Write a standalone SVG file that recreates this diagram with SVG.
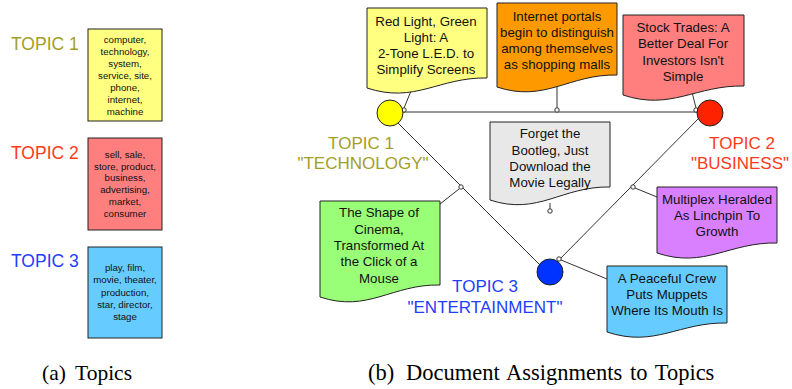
<svg xmlns="http://www.w3.org/2000/svg" width="792" height="389" viewBox="0 0 792 389">
<style>
text{font-family:"Liberation Sans",Arial,sans-serif;fill:#111}
.kw{font-size:9.7px;text-anchor:middle}
.doc{font-size:13.3px;text-anchor:middle}
.tl{font-size:17.5px}
.tr{font-size:17px;text-anchor:middle}
.cap{font-family:"Liberation Serif","Times New Roman",serif;font-size:21.5px;fill:#000}
.box{stroke:#222;stroke-width:1}
.ln{stroke:#333;stroke-width:1;fill:none}
.dot{fill:#fff;stroke:#333;stroke-width:1}
.t1{fill:#a39e26}.t2{fill:#ff3a1a}.t3{fill:#1f3dff}
</style>

<g id="topic1-box">
<text class="tl t1" x="11" y="50">TOPIC 1</text>
<rect class="box" x="88" y="29" width="74" height="92" fill="#ffff80"/>
<text class="kw" x="125" y="43">computer,</text>
<text class="kw" x="125" y="55">technology,</text>
<text class="kw" x="125" y="67">system,</text>
<text class="kw" x="125" y="79">service, site,</text>
<text class="kw" x="125" y="91">phone,</text>
<text class="kw" x="125" y="103">internet,</text>
<text class="kw" x="125" y="115">machine</text>
</g>
<g id="topic2-box">
<text class="tl t2" x="11" y="159">TOPIC 2</text>
<rect class="box" x="88" y="138" width="74" height="92" fill="#ff7f7f"/>
<text class="kw" x="125" y="158">sell, sale,</text>
<text class="kw" x="125" y="169.7">store, product,</text>
<text class="kw" x="125" y="181.4">business,</text>
<text class="kw" x="125" y="193.1">advertising,</text>
<text class="kw" x="125" y="204.8">market,</text>
<text class="kw" x="125" y="216.5">consumer</text>
</g>
<g id="topic3-box">
<text class="tl t3" x="11" y="267">TOPIC 3</text>
<rect class="box" x="88" y="247" width="74" height="91" fill="#66ccff"/>
<text class="kw" x="125" y="271">play, film,</text>
<text class="kw" x="125" y="283.25">movie, theater,</text>
<text class="kw" x="125" y="295.5">production,</text>
<text class="kw" x="125" y="307.75">star, director,</text>
<text class="kw" x="125" y="320">stage</text>
</g>

<g id="connectors">
<line class="ln" x1="392" y1="112" x2="708" y2="112"/>
<line class="ln" x1="398" y1="123" x2="541" y2="266"/>
<line class="ln" x1="700" y1="117" x2="557" y2="262"/>
<line class="ln" x1="404" y1="108" x2="411" y2="91"/>
<line class="ln" x1="557" y1="85" x2="557" y2="108"/>
<line class="ln" x1="696" y1="108" x2="692" y2="92"/>
<line class="ln" x1="550" y1="203" x2="550" y2="209"/>
<line class="ln" x1="459" y1="189" x2="440" y2="204"/>
<line class="ln" x1="635" y1="188" x2="657" y2="197"/>
<line class="ln" x1="561" y1="260" x2="607" y2="279"/>
<circle class="dot" cx="404" cy="110" r="2.2"/>
<circle class="dot" cx="557" cy="110" r="2.2"/>
<circle class="dot" cx="696" cy="110" r="2.2"/>
<circle class="dot" cx="550" cy="211" r="2.2"/>
<circle class="dot" cx="461" cy="187" r="2.2"/>
<circle class="dot" cx="633" cy="187" r="2.2"/>
<circle class="dot" cx="559" cy="259" r="2.2"/>
</g>

<g id="topic1">
<circle class="box" cx="390" cy="113" r="13" fill="#ffff00"/>
<text class="tr t1" x="361" y="149">TOPIC 1</text>
<text class="tr t1" x="363" y="169">"TECHNOLOGY"</text>
</g>
<g id="topic2">
<circle class="box" cx="710" cy="113" r="13" fill="#ff2200"/>
<text class="tr t2" x="742" y="149">TOPIC 2</text>
<text class="tr t2" x="740" y="169">"BUSINESS"</text>
</g>
<g id="topic3">
<circle class="box" cx="550" cy="272" r="13" fill="#0033ff"/>
<text class="tr t3" x="485" y="292">TOPIC 3</text>
<text class="tr t3" x="485" y="313">"ENTERTAINMENT"</text>
</g>

<g id="doc-led">
<path class="box" d="M367,8 H487 V78 C439,77 415,104 367,88 Z" fill="#ffff80"/>
<text class="doc" x="426" y="26">Red Light, Green</text>
<text class="doc" x="426" y="42">Light: A</text>
<text class="doc" x="426" y="58">2-Tone L.E.D. to</text>
<text class="doc" x="426" y="74">Simplify Screens</text>
</g>
<g id="doc-portals">
<path class="box" d="M497,3 H617 V75 C569,74 545,103 497,87 Z" fill="#ff9900"/>
<text class="doc" x="557" y="20.5">Internet portals</text>
<text class="doc" x="557" y="36.8">begin to distinguish</text>
<text class="doc" x="557" y="53.1">among themselves</text>
<text class="doc" x="557" y="69.4">as shopping malls</text>
</g>
<g id="doc-stock">
<path class="box" d="M623,15 H744 V86 C696,85 671,111 623,95 Z" fill="#ff7f7f"/>
<text class="doc" x="683" y="32">Stock Trades: A</text>
<text class="doc" x="683" y="48">Better Deal For</text>
<text class="doc" x="683" y="65">Investors Isn't</text>
<text class="doc" x="683" y="81">Simple</text>
</g>
<g id="doc-bootleg">
<path class="box" d="M490,122 H610 V187 C562,186 538,216 490,200 Z" fill="#e8e8e8"/>
<text class="doc" x="550" y="138">Forget the</text>
<text class="doc" x="550" y="155">Bootleg, Just</text>
<text class="doc" x="550" y="171">Download the</text>
<text class="doc" x="550" y="187">Movie Legally</text>
</g>
<g id="doc-multiplex">
<path class="box" d="M657,187 H777 V243 C729,242 705,269 657,253 Z" fill="#d880ff"/>
<text class="doc" x="717" y="204">Multiplex Heralded</text>
<text class="doc" x="717" y="220">As Linchpin To</text>
<text class="doc" x="717" y="236">Growth</text>
</g>
<g id="doc-cinema">
<path class="box" d="M320,201 H440 V285 C392,284 368,313 320,297 Z" fill="#99ff77"/>
<text class="doc" x="379" y="217">The Shape of</text>
<text class="doc" x="379" y="234">Cinema,</text>
<text class="doc" x="379" y="250">Transformed At</text>
<text class="doc" x="379" y="266">the Click of a</text>
<text class="doc" x="379" y="283">Mouse</text>
</g>
<g id="doc-muppets">
<path class="box" d="M607,266 H727 V323 C679,322 655,348 607,332 Z" fill="#66ccff"/>
<text class="doc" x="667" y="283">A Peaceful Crew</text>
<text class="doc" x="667" y="299">Puts Muppets</text>
<text class="doc" x="667" y="315">Where Its Mouth Is</text>
</g>

<g id="captions">
<text class="cap" x="42" y="380">(a)</text>
<text class="cap" x="75" y="380">Topics</text>
<text class="cap" x="368" y="380" style="font-size:22.5px">(b)</text>
<text class="cap" x="406" y="380" style="font-size:22.5px" word-spacing="2">Document Assignments to Topics</text>
</g>
</svg>
